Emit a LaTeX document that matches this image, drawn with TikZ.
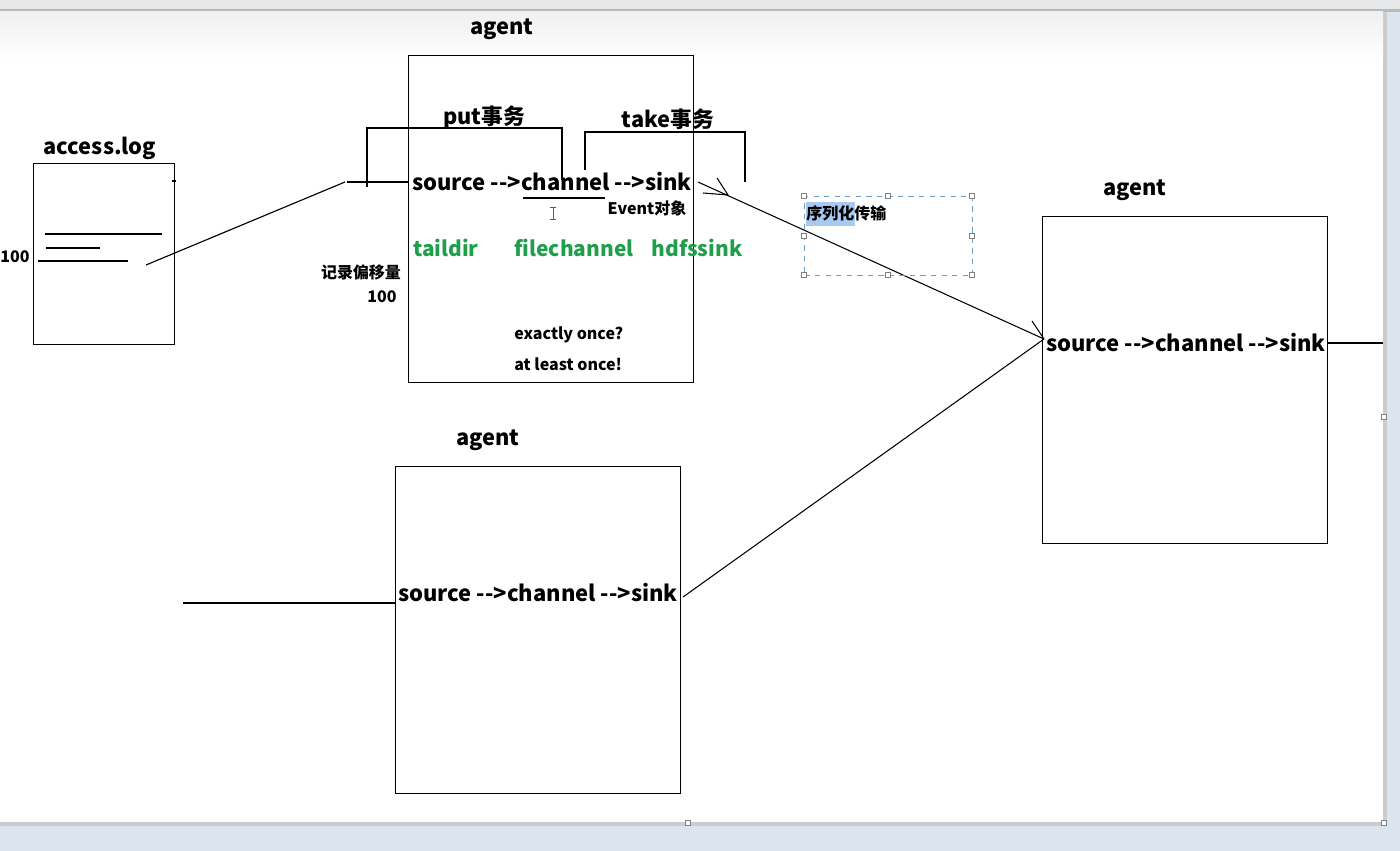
\documentclass[tikz,border=0pt]{standalone}
\usepackage{fontspec}
\setmainfont{Noto Sans CJK SC}[Ligatures=NoCommon]
\newcommand\darr{\mbox{-}\mbox{-}>}
\definecolor{bgblue}{HTML}{DCE4EF}
\definecolor{topbar}{HTML}{E6E7E9}
\definecolor{fgreen}{HTML}{1F9E4B}
\definecolor{hilite}{HTML}{A9C9F1}
\definecolor{selblue}{HTML}{6F9FC9}
\begin{document}
\begin{tikzpicture}[x=0.02cm,y=-0.02cm,
  lbl/.style={font=\fontsize{12.4}{14}\selectfont\bfseries, inner sep=0pt},
  flow/.style={font=\fontsize{12.5}{14}\selectfont\bfseries, inner sep=0pt},
  sml/.style={font=\fontsize{9.1}{11}\selectfont\bfseries, inner sep=0pt},
  grn/.style={font=\fontsize{11.9}{14}\selectfont\bfseries, inner sep=0pt, text=fgreen},
  agentbox/.style={draw, line width=0.65pt, inner sep=0pt, minimum width=5.7cm, minimum height=6.54cm, anchor=north west},
  ln/.style={line width=0.65pt},
  handle/.style={draw=gray, fill=white, line width=0.4pt, inner sep=0pt, minimum size=0.09cm},
  selbox/.style={draw=selblue, dashed, line width=0.6pt, inner sep=0pt, minimum width=3.36cm, minimum height=1.58cm, anchor=north west}
]
\useasboundingbox (0,0) rectangle (1400,851);
% background
\fill[bgblue] (0,0) rectangle (1400,851);
\fill[topbar] (0,0) rectangle (1400,10);
\fill[gray!55] (0,9) rectangle (1400,12);
\fill[gray!40] (1383,12) rectangle (1387,823);
\fill[gray!40] (0,822) rectangle (1387,826);
\fill[white] (0,12) rectangle (1383,822);
\shade[top color=gray!12, bottom color=white] (0,12) rectangle (1383,60);

% access.log
\node[lbl] (loglbl) at (100,148) {access.log};
\node[draw, line width=0.65pt, inner sep=0pt, minimum width=2.82cm, minimum height=3.62cm, anchor=north west] (log) at (33,163) {};
\coordinate (l1a) at (45,234); \coordinate (l1b) at (162,234);
\coordinate (l2a) at (46,248); \coordinate (l2b) at (100,248);
\coordinate (l3a) at (38,261); \coordinate (l3b) at (128,261);
\draw[ln] (l1a) -- (l1b);
\draw[ln] (l2a) -- (l2b);
\draw[ln] (l3a) -- (l3b);
\draw[ln] (172,181) -- (176,181);
\node[sml] (n100a) at (15,257) {100};

% agent 1
\node[lbl] (ag1) at (502,29) {agent};
\node[agentbox] (box1) at (408,55) {};
\node[lbl] (put) at (484,117) {put事务};
\node[lbl] (take) at (668,119) {take事务};
\node[flow] (t1) at (552,182) {source \darr channel \darr sink};
\node[sml] (ev) at (647,208) {Event对象};
\node[grn] (g1) at (446,248) {taildir};
\node[grn] (g2) at (574,248) {filechannel};
\node[grn] (g3) at (697,248) {hdfssink};
\node[sml] (rec) at (361,272) {记录偏移量};
\node[sml] (n100b) at (382,297) {100};
\node[sml, anchor=west] (ex1) at (514,335) {exactly once?};
\node[sml, anchor=west] (ex2) at (514,364) {at least once!};

% brackets
\coordinate (pl) at (367,128); \coordinate (pr) at (562,128);
\draw[ln] (367,187) -- (pl) -- (pr) -- (562,180);
\coordinate (tl) at (585,132); \coordinate (tr) at (745,132);
\draw[ln] (585,170) -- (tl) -- (tr) -- (745,182);
\coordinate (inl) at (347,182);
\draw[ln] (inl) -- (box1.west |- inl);
\coordinate (logp) at (146,265);
\draw[ln] (logp) -- (345,182);
\draw[ln] (523,198) -- (605,198);
% I-beam cursor
\draw[line width=0.5pt, gray!70!black] (553,207) -- (553,219) (550,207) -- (556,207) (550,219) -- (556,219);

% agent right
\node[lbl] (ag2) at (1135,190) {agent};
\node[agentbox] (box2) at (1042,216) {};
\node[flow] (t2) at (1186,343) {source \darr channel \darr sink};
\coordinate (r1) at (1327,343); \coordinate (r2) at (1383,343);
\draw[ln] (r1) -- (r2);

% agent bottom
\node[lbl] (ag3) at (488,440) {agent};
\node[agentbox] (box3) at (395,466) {};
\node[flow] (t3) at (538,593) {source \darr channel \darr sink};
\coordinate (b0) at (183,603);
\draw[ln] (b0) -- (box3.west |- b0);

% connectors
\coordinate (s1) at (698,182);
\coordinate (d2) at (1044,339);
\draw[line width=0.6pt] (s1) -- (d2);
\draw[line width=0.6pt] (703,193) -- (728,195) -- (717,178);
\draw[line width=0.6pt] (1032,321) -- (d2);
\coordinate (s3) at (683,597);
\draw[line width=0.6pt] (s3) -- (d2);

% selection box
\node[selbox] (sel) at (804,196) {};
\fill[hilite] (806,202) rectangle (855,226);
\node[sml, anchor=west] (ser) at (806,213) {序列化传输};
\foreach \p in {(804,196),(888,196),(972,196),(804,236),(972,236),(804,275),(888,275),(972,275)}
  \node[handle] at \p {};
% canvas handles
\foreach \p in {(1384,417),(688,823),(1384,823)}
  \node[handle] at \p {};
\end{tikzpicture}
\end{document}
